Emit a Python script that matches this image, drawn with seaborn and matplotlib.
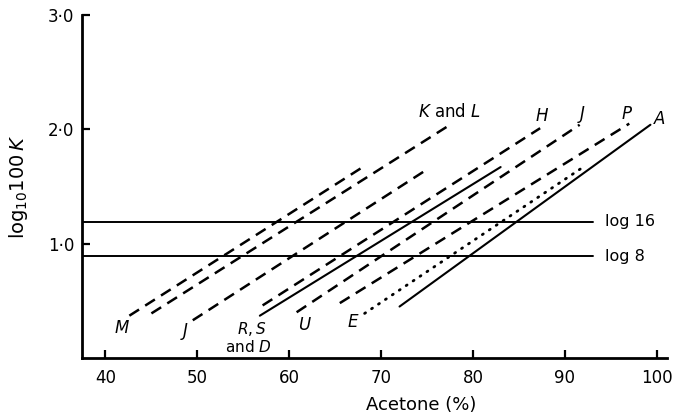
import matplotlib
matplotlib.use('Agg')
import matplotlib.pyplot as plt
import seaborn as sns
import pandas as pd

# ---- data ----
line_names = ['M', 'K and L', 'J', 'H', 'D', 'U-J', 'P', 'E', 'A']
x_start = [42.6, 45.0, 49.5, 57.1, 56.8, 60.8, 65.5, 68.2, 72.0]
y_start = [0.37, 0.39, 0.33, 0.46, 0.37, 0.40, 0.48, 0.39, 0.45]
x_end = [68.0, 77.5, 75.2, 87.3, 83.0, 91.6, 97.0, 91.8, 99.3]
y_end = [1.67, 2.04, 1.66, 2.01, 1.67, 2.04, 2.05, 1.66, 2.04]
line_kind = ['dashed', 'dashed', 'dashed', 'dashed', 'solid', 'dashed', 'dashed', 'dotted', 'solid']

ref_levels = [1.19, 0.89]
ref_labels = ['log 16', 'log 8']
ref_x = [37.5, 93.1]

curve_labels = [r'$\mathit{K}$ and $\mathit{L}$', r'$\mathit{H}$', r'$\mathit{J}$', r'$\mathit{P}$', r'$\mathit{A}$',
                r'$\mathit{M}$', r'$\mathit{J}$', r'$\mathit{R,S}$', r'and $\mathit{D}$', r'$\mathit{U}$', r'$\mathit{E}$']
curve_label_x = [77.4, 87.5, 91.8, 96.7, 100.3, 41.8, 48.6, 55.9, 55.5, 61.7, 67.0]
curve_label_y = [2.15, 2.12, 2.13, 2.13, 2.09, 0.26, 0.23, 0.255, 0.10, 0.285, 0.315]
curve_label_size = [12, 12, 12, 12, 12, 12, 12, 11, 11, 12, 12]

x_ticks = [40, 50, 60, 70, 80, 90, 100]
y_ticks = [1.0, 2.0, 3.0]
y_tick_labels = ['1·0', '2·0', '3·0']

# ---- figure ----
sns.set_style('ticks')
plt.rcParams['font.family'] = ['DejaVu Sans']
plt.rcParams['mathtext.fontset'] = 'dejavusans'
for key in ['text.color', 'axes.labelcolor', 'xtick.color', 'ytick.color', 'axes.edgecolor']:
    plt.rcParams[key] = 'black'

fig = plt.figure(figsize=(6.84, 4.19), dpi=100)
ax = fig.add_axes([0.1206, 0.1456, 0.9751 - 0.1206, 0.9642 - 0.1456])

styles = {
    'dashed': dict(linestyle=(0, (4.6, 2.9)), linewidth=1.8),
    'solid': dict(linestyle='-', linewidth=1.5),
    'dotted': dict(linestyle=(0, (0.4, 2.6)), linewidth=2.0, dash_capstyle='round'),
}

for name, x0, y0, x1, y1, kind in zip(line_names, x_start, y_start, x_end, y_end, line_kind):
    df = pd.DataFrame({'acetone': [x0, x1], 'logk': [y0, y1]})
    sns.lineplot(data=df, x='acetone', y='logk', ax=ax, color='black', **styles[kind])

for lev, lab in zip(ref_levels, ref_labels):
    df = pd.DataFrame({'acetone': ref_x, 'logk': [lev, lev]})
    sns.lineplot(data=df, x='acetone', y='logk', ax=ax, color='black', linewidth=1.4)
    ax.text(ref_x[1] + 1.3, lev, lab, fontsize=11.5, va='center', ha='left', color='black')

for t, x, y, s in zip(curve_labels, curve_label_x, curve_label_y, curve_label_size):
    ax.text(x, y, t, fontsize=s, ha='center', va='center', color='black')

ax.set_xlim(37.5, 101.1)
ax.set_ylim(0, 3.0)
ax.set_xticks(x_ticks)
ax.set_xticklabels([str(v) for v in x_ticks], fontsize=12)
ax.set_yticks(y_ticks, y_tick_labels, fontsize=12)
ax.tick_params(axis='both', direction='in', length=6, width=1.6, color='black',
               labelcolor='black', pad=6)
ax.tick_params(axis='x', pad=8)

for side in ['top', 'right']:
    ax.spines[side].set_visible(False)
for side in ['left', 'bottom']:
    ax.spines[side].set_linewidth(2.0)
    ax.spines[side].set_color('black')

ax.set_xlabel('Acetone (%)', fontsize=13, color='black')
ax.xaxis.set_label_coords(0.579, -0.11)
ax.set_ylabel(r'$\mathregular{log_{10}100}\,\mathit{K}$', fontsize=14, color='black')
ax.yaxis.set_label_coords(-0.09, 0.5)

fig.savefig('out.png', dpi=100)
